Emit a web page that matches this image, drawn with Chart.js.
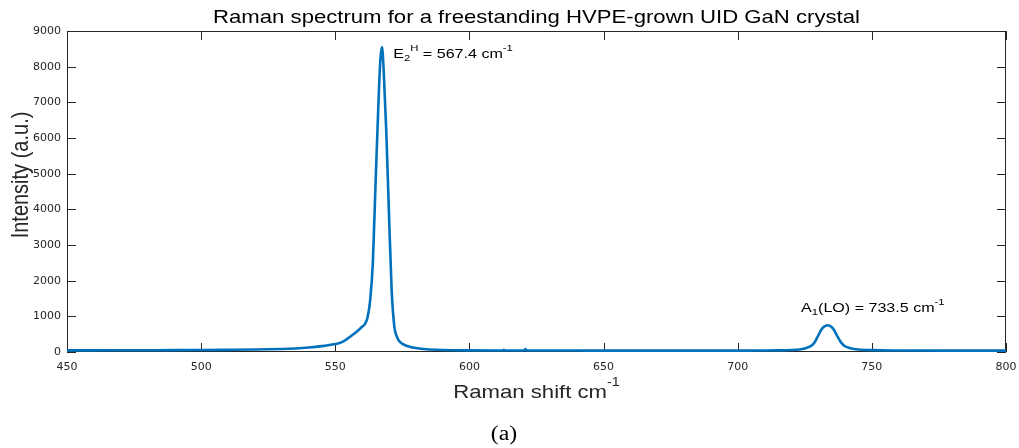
<!DOCTYPE html>
<html><head><meta charset="utf-8">
<script src="https://cdn.jsdelivr.net/npm/chart.js@4.4.0/dist/chart.umd.min.js"></script>
<style>html,body{margin:0;padding:0;background:#fff;}canvas{display:block;}</style>
</head><body>
<canvas id="c" width="1019" height="448"></canvas>
<script>
// ---- data ----
const ramanShift = [450,460,470,480,490,500,510,520,530,535,540,545,548,551,553,555,557,559,560,561,562,563,564,565,566,566.8,567.4,568,569,570,571,572,573,574,576,578,580,584,590,600,610,612.5,612.8,613.2,620,620.5,620.9,621.3,630,640,660,680,700,710,715,720,723,725,727,728.5,730,731.5,733.5,735.5,737,738.5,740,742,745,750,760,780,800];
const intensity  = [45,46,48,50,52,55,60,68,85,100,125,165,200,240,300,400,510,640,710,780,960,1450,2500,4700,6800,8200,8550,7950,6200,3900,1750,720,420,290,190,140,110,75,55,45,42,42,60,42,42,44,85,44,40,40,38,38,38,40,45,55,72,100,155,250,460,660,750,660,460,270,160,105,70,52,42,38,38];
const xTickValues = [450,500,550,600,650,700,750,800];
const yTickValues = [0,1000,2000,3000,4000,5000,6000,7000,8000,9000];
const titleText = 'Raman spectrum for a freestanding HVPE-grown UID GaN crystal';
const xTitle = 'Raman shift cm';
const yTitle = 'Intensity (a.u.)';
const captionText = '(a)';

const SX = 1.19;           // horizontal stretch of the reference's text
const SANS = '"Liberation Sans", Arial, sans-serif';
const AX = '#262626';

function rich(ctx, parts, x, y, sx, measureOnly) {
  ctx.save();
  let w = 0;
  for (const p of parts) { ctx.font = p.size + 'px ' + SANS; w += ctx.measureText(p.t).width; }
  if (!measureOnly) {
    ctx.translate(x, y); ctx.scale(sx, 1);
    let cx = 0;
    for (const p of parts) {
      ctx.font = p.size + 'px ' + SANS;
      ctx.fillText(p.t, cx, p.dy || 0);
      cx += ctx.measureText(p.t).width;
    }
  }
  ctx.restore();
  return w * sx;
}

const decor = {
  id: 'decor',
  beforeDatasetsDraw(chart) {
    const {ctx, chartArea: a, scales: {x, y}} = chart;
    ctx.save();
    ctx.strokeStyle = AX; ctx.lineWidth = 1;
    ctx.strokeRect(a.left + 0.5, a.top + 0.5, a.right - a.left - 1, a.bottom - a.top - 1);
    const TL = 9;
    ctx.beginPath();
    for (const v of xTickValues) {
      const px = Math.round(x.getPixelForValue(v)) + 0.5;
      ctx.moveTo(px, a.bottom); ctx.lineTo(px, a.bottom - TL);
      ctx.moveTo(px, a.top); ctx.lineTo(px, a.top + TL);
    }
    for (const v of yTickValues) {
      const py = Math.round(y.getPixelForValue(v)) + 0.5;
      ctx.moveTo(a.left, py); ctx.lineTo(a.left + TL, py);
      ctx.moveTo(a.right, py); ctx.lineTo(a.right - TL, py);
    }
    ctx.stroke();
    ctx.restore();
  },
  afterDraw(chart) {
    const {ctx, chartArea: a, scales: {x, y}} = chart;
    ctx.save();
    ctx.fillStyle = '#000';
    ctx.textBaseline = 'alphabetic';
    const cxm = (a.left + a.right) / 2;
    // title
    let parts = [{t: titleText, size: 18.6}];
    let w = rich(ctx, parts, 0, 0, SX, true);
    rich(ctx, parts, cxm - w / 2, 22.5, SX);
    // x title
    ctx.fillStyle = AX;
    parts = [{t: xTitle, size: 18.6}, {t: '-1', size: 12, dy: -12}];
    w = rich(ctx, parts, 0, 0, SX, true);
    rich(ctx, parts, cxm - w / 2, 398, SX);
    // y title (rotated)
    ctx.save();
    ctx.font = '20px ' + SANS;
    const yw = ctx.measureText(yTitle).width;
    ctx.translate(28, 175);
    ctx.rotate(-Math.PI / 2);
    ctx.scale(1, SX);
    ctx.fillText(yTitle, -yw / 2, 0);
    ctx.restore();
    // peak annotations
    ctx.fillStyle = '#000';
    rich(ctx, [{t: 'E', size: 13.5}, {t: '2', size: 9.5, dy: 3}, {t: 'H', size: 9.5, dy: -7}, {t: ' = 567.4 cm', size: 13.5}, {t: '-1', size: 9.5, dy: -7}],
      x.getPixelForValue(571.6), y.getPixelForValue(8250), SX);
    rich(ctx, [{t: 'A', size: 13.5}, {t: '1', size: 9.5, dy: 3}, {t: '(LO) = 733.5 cm', size: 13.5}, {t: '-1', size: 9.5, dy: -7}],
      x.getPixelForValue(723.6), y.getPixelForValue(1130), SX);
    // caption
    ctx.save();
    ctx.font = '20px "Liberation Serif", "Times New Roman", serif';
    const cw = ctx.measureText(captionText).width * SX;
    ctx.translate(504 - cw / 2, 440); ctx.scale(SX, 1);
    ctx.fillText(captionText, 0, 0);
    ctx.restore();
    ctx.restore();
  }
};

function fixPad(s) { s.paddingLeft = 0; s.paddingRight = 0; s.paddingTop = 0; s.paddingBottom = 0; }

new Chart(document.getElementById('c'), {
  type: 'line',
  data: {
    datasets: [{
      data: ramanShift.map((v, i) => ({x: v, y: intensity[i]})),
      borderColor: '#0072BD',
      borderWidth: 2.6,
      pointRadius: 0,
      fill: false,
      cubicInterpolationMode: 'monotone'
    }]
  },
  options: {
    responsive: false,
    animation: false,
    devicePixelRatio: 1,
    layout: {padding: {top: 31, right: 13, left: 0, bottom: 0}},
    plugins: {legend: {display: false}, tooltip: {enabled: false}},
    scales: {
      x: {
        type: 'linear', min: 450, max: 800,
        afterBuildTicks: s => { s.ticks = xTickValues.map(v => ({value: v})); },
        afterFit: s => { s.height = 96; fixPad(s); },
        grid: {display: false, drawTicks: false},
        border: {display: false},
        ticks: {padding: 9, color: AX, maxRotation: 0, autoSkip: false, callback: v => String(v), font: {family: '"DejaVu Sans"', size: 11}}
      },
      y: {
        type: 'linear', min: 0, max: 9000,
        afterBuildTicks: s => { s.ticks = yTickValues.map(v => ({value: v})); },
        afterFit: s => { s.width = 67; fixPad(s); },
        grid: {display: false, drawTicks: false},
        border: {display: false},
        ticks: {padding: 6, color: AX, autoSkip: false, callback: v => String(v), font: {family: '"DejaVu Sans"', size: 11}}
      }
    }
  },
  plugins: [decor]
});
</script>
</body></html>
